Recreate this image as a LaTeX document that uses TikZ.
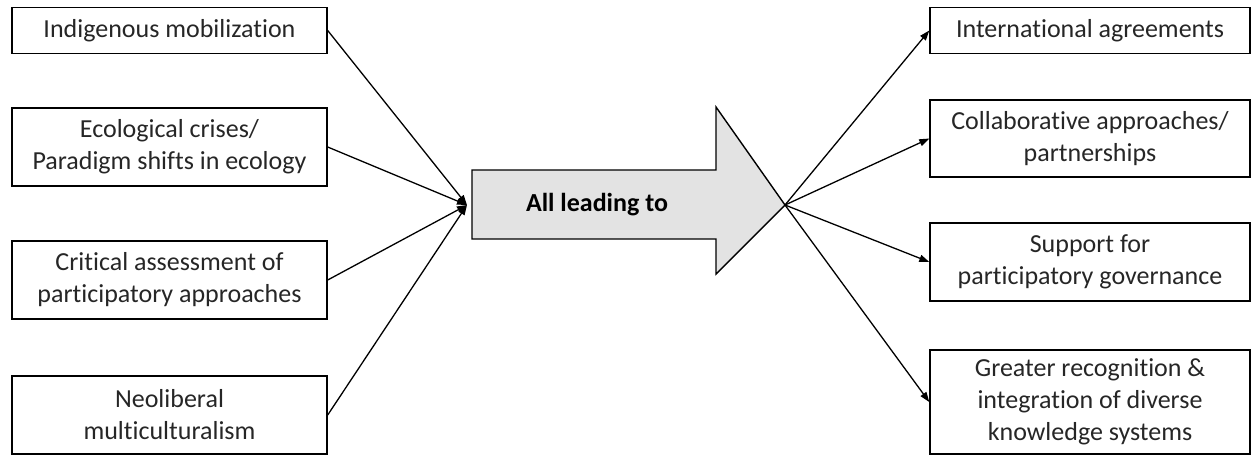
\documentclass[tikz,border=0pt]{standalone}
\usepackage{fontspec}
\setmainfont[Ligatures=NoCommon]{Carlito}
\usetikzlibrary{arrows.meta}
\begin{document}
\begin{tikzpicture}[x=1pt,y=-1pt,
  box/.style={draw=black,line width=1.4pt,align=center,inner sep=0pt,
    font=\fontsize{26}{32}\selectfont,text=black!85},
  link/.style={line width=1.3pt,-{Triangle[length=10pt,width=7pt]}}]
\useasboundingbox (0,0) rectangle (1257,456);
% sources on the left
\node[box,minimum width=315pt,minimum height=46pt] (a1) at (169.5,30.5) {Indigenous mobilization};
\node[box,minimum width=315pt,minimum height=78pt] (a2) at (169.5,147) {Ecological crises/\\Paradigm shifts in ecology};
\node[box,minimum width=315pt,minimum height=78pt] (a3) at (169.5,280) {Critical assessment of\\participatory approaches};
\node[box,minimum width=315pt,minimum height=78pt] (a4) at (169.5,415) {Neoliberal\\multiculturalism};
% outcomes on the right
\node[box,minimum width=320pt,minimum height=46pt] (b1) at (1090,30.5) {International agreements};
\node[box,minimum width=320pt,minimum height=77pt] (b2) at (1090,138.5) {Collaborative approaches/\\partnerships};
\node[box,minimum width=320pt,minimum height=78pt] (b3) at (1090,262) {Support for\\participatory governance};
\node[box,minimum width=320pt,minimum height=104pt] (b4) at (1090,402) {Greater recognition \&\\integration of diverse\\knowledge systems};
% central block arrow
\draw[line width=1.4pt,fill=black!11,line join=miter]
  (472,170) -- (716,170) -- (716,107) -- (785,205) -- (716,274) -- (716,239) -- (472,239) -- cycle;
\node[font=\fontsize{26}{30}\bfseries\selectfont] (lead) at (597,205) {All leading to};
\coordinate (in) at (467,205);
\coordinate (out) at (785,205);
% connectors
\foreach \n in {a1,a2,a3,a4} \draw[link] (\n.east) -- (in);
\foreach \n in {b1,b2,b3,b4} \draw[link] (out) -- (\n.west);
\end{tikzpicture}
\end{document}
